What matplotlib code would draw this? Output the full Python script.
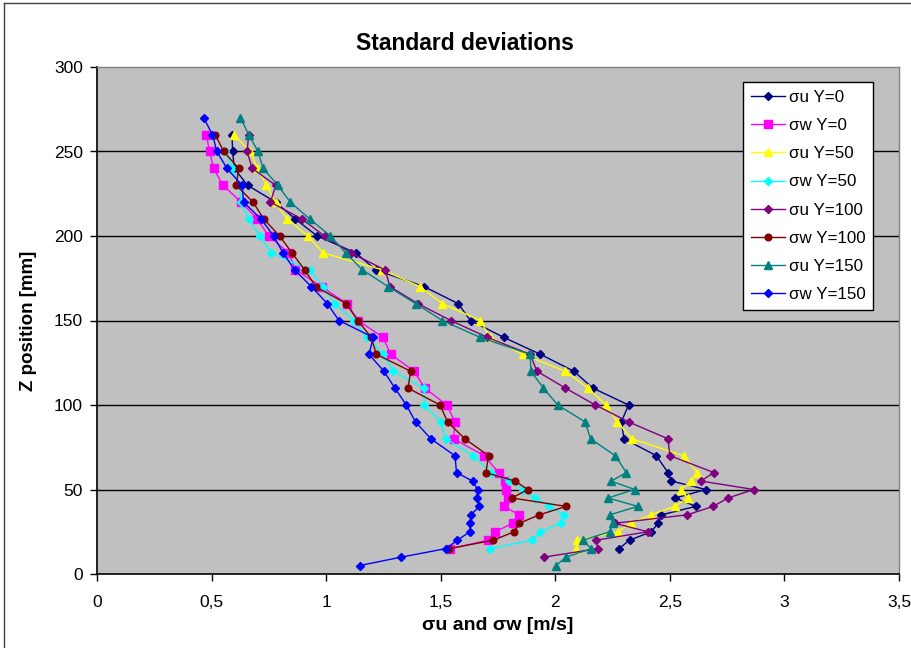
import matplotlib
matplotlib.use("Agg")
import matplotlib.pyplot as plt
from matplotlib.lines import Line2D
from matplotlib.ticker import FuncFormatter

plt.rcParams['font.family'] = ['Liberation Sans', 'DejaVu Sans']

# ---- data (Z position in mm, sigma in m/s) ----
z_u0 = [260, 250, 240, 230, 220, 210, 200, 190, 180, 170, 160, 150, 140, 130, 120, 110, 100, 90, 80, 70, 60, 55, 50, 45, 40, 35, 30, 25, 20, 15]
su_y0 = [0.589, 0.592, 0.599, 0.657, 0.78, 0.866, 0.961, 1.129, 1.216, 1.428, 1.576, 1.63, 1.775, 1.935, 2.081, 2.164, 2.32, 2.288, 2.30, 2.441, 2.492, 2.507, 2.657, 2.524, 2.613, 2.463, 2.448, 2.419, 2.324, 2.278]

z_w0 = [260, 250, 240, 230, 220, 210, 200, 190, 180, 170, 160, 150, 140, 130, 120, 110, 100, 90, 80, 70, 60, 55, 50, 45, 40, 35, 30, 25, 20, 15]
sw_y0 = [0.477, 0.491, 0.509, 0.55, 0.63, 0.70, 0.749, 0.837, 0.866, 0.98, 1.09, 1.14, 1.248, 1.282, 1.384, 1.43, 1.527, 1.562, 1.556, 1.69, 1.753, 1.78, 1.785, 1.795, 1.775, 1.843, 1.814, 1.738, 1.707, 1.541]

z_u50 = [260, 250, 240, 230, 220, 210, 200, 190, 180, 170, 160, 150, 140, 130, 120, 110, 100, 90, 80, 70, 60, 55, 50, 45, 40, 35, 30, 25, 20, 15]
su_y50 = [0.596, 0.669, 0.70, 0.739, 0.779, 0.83, 0.92, 0.987, 1.245, 1.41, 1.507, 1.672, 1.716, 1.857, 2.044, 2.142, 2.222, 2.27, 2.335, 2.56, 2.62, 2.594, 2.547, 2.577, 2.521, 2.416, 2.329, 2.273, 2.095, 2.091]

z_w50 = [250, 240, 230, 220, 210, 200, 190, 180, 170, 160, 150, 140, 130, 120, 110, 100, 90, 80, 70, 60, 55, 50, 45, 40, 35, 30, 25, 20, 15]
sw_y50 = [0.56, 0.59, 0.62, 0.63, 0.662, 0.71, 0.76, 0.93, 0.987, 1.037, 1.12, 1.179, 1.248, 1.293, 1.428, 1.428, 1.50, 1.522, 1.643, 1.719, 1.80, 1.86, 1.913, 1.971, 2.037, 2.025, 1.935, 1.899, 1.715]

z_u100 = [260, 250, 240, 230, 220, 210, 200, 190, 180, 170, 160, 150, 140, 130, 120, 110, 100, 90, 80, 70, 60, 55, 50, 45, 40, 35, 30, 25, 20, 15, 10]
su_y100 = [0.662, 0.655, 0.677, 0.78, 0.757, 0.895, 0.993, 1.107, 1.257, 1.279, 1.40, 1.544, 1.704, 1.89, 1.92, 2.044, 2.175, 2.32, 2.492, 2.50, 2.693, 2.635, 2.867, 2.754, 2.689, 2.575, 2.259, 2.404, 2.178, 2.185, 1.95]

z_w100 = [260, 250, 240, 230, 220, 210, 200, 190, 180, 170, 160, 150, 140, 130, 120, 110, 100, 90, 80, 70, 60, 55, 50, 45, 40, 35, 30, 25, 20, 15]
sw_y100 = [0.516, 0.553, 0.618, 0.608, 0.681, 0.728, 0.797, 0.851, 0.906, 0.955, 1.088, 1.138, 1.197, 1.219, 1.369, 1.357, 1.497, 1.53, 1.605, 1.709, 1.697, 1.824, 1.88, 1.811, 2.047, 1.93, 1.843, 1.821, 1.729, 1.537]

z_u150 = [270, 260, 250, 240, 230, 220, 210, 200, 190, 180, 170, 160, 150, 140, 130, 120, 110, 100, 90, 80, 70, 60, 55, 50, 45, 40, 35, 30, 25, 20, 15, 10, 5]
su_y150 = [0.626, 0.662, 0.703, 0.725, 0.789, 0.844, 0.929, 1.019, 1.085, 1.158, 1.271, 1.391, 1.507, 1.672, 1.89, 1.894, 1.948, 2.011, 2.13, 2.154, 2.262, 2.31, 2.244, 2.346, 2.23, 2.36, 2.237, 2.251, 2.237, 2.12, 2.157, 2.047, 2.003]

z_w150 = [270, 260, 250, 240, 230, 220, 210, 200, 190, 180, 170, 160, 150, 140, 130, 120, 110, 100, 90, 80, 70, 60, 55, 50, 45, 40, 35, 30, 25, 20, 15, 10, 5]
sw_y150 = [0.465, 0.504, 0.523, 0.567, 0.633, 0.64, 0.716, 0.771, 0.812, 0.862, 0.936, 1.005, 1.056, 1.206, 1.187, 1.252, 1.30, 1.35, 1.39, 1.457, 1.562, 1.569, 1.639, 1.661, 1.657, 1.668, 1.632, 1.629, 1.627, 1.573, 1.522, 1.328, 1.146]

labels = ["σu Y=0", "σw Y=0", "σu Y=50", "σw Y=50", "σu Y=100", "σw Y=100", "σu Y=150", "σw Y=150"]
x_ticks = [0, 0.5, 1, 1.5, 2, 2.5, 3, 3.5]
y_ticks = [0, 50, 100, 150, 200, 250, 300]

series = [
    (su_y0, z_u0, "#000080", "D", 4.2),
    (sw_y0, z_w0, "#FF00FF", "s", 5.2),
    (su_y50, z_u50, "#FFFF00", "^", 6.0),
    (sw_y50, z_w50, "#00FFFF", "D", 4.2),
    (su_y100, z_u100, "#800080", "D", 4.2),
    (sw_y100, z_w100, "#800000", "o", 4.8),
    (su_y150, z_u150, "#008080", "^", 6.0),
    (sw_y150, z_w150, "#0000FF", "D", 4.2),
]

fig = plt.figure(figsize=(9.11, 6.48), dpi=100)
fig.patch.set_facecolor("white")
ax = fig.add_axes([97/911, 1-574/648, (899-97)/911, (574-67)/648])
ax.set_facecolor("#C0C0C0")

for yc in [50, 100, 150, 200, 250]:
    ax.axhline(yc, color="black", lw=1.0, zorder=1)

for (xs, zs, col, mk, ms), lab in zip(series, labels):
    ax.plot(xs, zs, color=col, marker=mk, markersize=ms, lw=1.0,
            markeredgecolor=col, markerfacecolor=col, label=lab, zorder=3)

ax.set_xlim(0, 3.5)
ax.set_ylim(0, 300)
ax.set_xticks(x_ticks)
ax.set_yticks(y_ticks)
ax.xaxis.set_major_formatter(FuncFormatter(lambda v, p: ("%g" % v).replace(".", ",")))
ax.tick_params(axis="both", direction="out", length=5, width=1, labelsize=12.5, colors="black")
ax.tick_params(axis="x", pad=10)
ax.tick_params(axis="y", pad=5)
for s in ["left", "bottom"]:
    ax.spines[s].set_color("black")
    ax.spines[s].set_linewidth(1.2)
for s in ["top", "right"]:
    ax.spines[s].set_color("#808080")
    ax.spines[s].set_linewidth(1.0)

fig.text(465/911, 1-44/648, "Standard deviations", fontsize=16.5, fontweight="bold",
         ha="center", va="center")
ax.set_xlabel("σu and σw [m/s]", fontsize=14, fontweight="bold", labelpad=5)
ax.set_ylabel("Z position [mm]", fontsize=13.5, fontweight="bold", labelpad=12)

leg = ax.legend(loc="upper left", bbox_to_anchor=(0.8055, 0.970), fontsize=12.2,
                frameon=True, fancybox=False, shadow=False, framealpha=1,
                handlelength=2.0, handletextpad=0.25, labelspacing=0.78,
                borderpad=0.45, borderaxespad=0)
leg.get_frame().set_edgecolor("black")
leg.get_frame().set_linewidth(1.0)

# outer chart border (left and top)
fig.add_artist(Line2D([4/911, 4/911], [0, 1-3/648], transform=fig.transFigure, color="#404040", lw=1))
fig.add_artist(Line2D([4/911, 1], [1-3/648, 1-3/648], transform=fig.transFigure, color="#404040", lw=1))

fig.savefig("out.png", dpi=100, facecolor="white")
